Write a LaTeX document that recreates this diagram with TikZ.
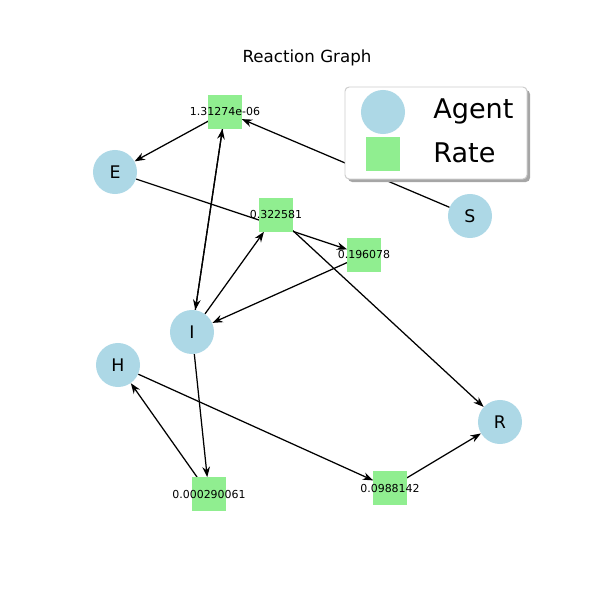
\documentclass[tikz,border=0pt]{standalone}
\usepackage{fontspec}
\setmainfont{DejaVu Sans}
\usetikzlibrary{arrows.meta,backgrounds}
\definecolor{agentc}{RGB}{173,216,230}
\definecolor{ratec}{RGB}{144,238,144}
\begin{document}
\begin{tikzpicture}[x=0.72pt,y=-0.72pt,
 agent/.style={circle,fill=agentc,minimum size=31.7pt,inner sep=0pt,font=\fontsize{12.5}{14}\selectfont},
 rate/.style={rectangle,fill=ratec,minimum size=23.8pt,inner sep=0pt},
 ratelabel/.style={inner sep=0pt,font=\fontsize{7.9}{9}\selectfont},
 edge/.style={-{Stealth[length=7.5pt,width=5.5pt]}, line width=0.9pt},
 legtext/.style={anchor=west,inner sep=0pt,font=\fontsize{19.5}{22}\selectfont}]
\useasboundingbox (0,0) rectangle (600,600);
\node[font=\fontsize{12}{14}\selectfont] (title) at (307,58) {Reaction Graph};
% agents
\node[agent] (E) at (115,172) {E};
\node[agent] (S) at (470,216) {S};
\node[agent] (I) at (192,332) {I};
\node[agent] (H) at (118,365) {H};
\node[agent] (R) at (500,422) {R};
% rates
\node[rate] (r1) at (225,112) {};
\node[rate] (r2) at (276,215) {};
\node[rate] (r3) at (364,255) {};
\node[rate] (r4) at (209,494) {};
\node[rate] (r5) at (390,488) {};
\node[ratelabel] (l1) at (225,112) {1.31274e-06};
\node[ratelabel] (l2) at (276,215) {0.322581};
\node[ratelabel] (l3) at (364,255) {0.196078};
\node[ratelabel] (l4) at (209,494) {0.000290061};
\node[ratelabel] (l5) at (390,488) {0.0988142};
\begin{pgfonlayer}{background}
\draw[edge] (S) -- (r1);
\draw[edge] (r1) -- (E);
\draw[edge] (I) -- (r1);
\draw[edge] (r1) -- (I);
\draw[edge] (E) -- (r3);
\draw[edge] (r3) -- (I);
\draw[edge] (I) -- (r2);
\draw[edge] (r2) -- (R);
\draw[edge] (I) -- (r4);
\draw[edge] (r4) -- (H);
\draw[edge] (H) -- (r5);
\draw[edge] (r5) -- (R);
\end{pgfonlayer}
% legend
\fill[black!35,rounded corners=3pt] (348,90) rectangle (530,182);
\draw[black!20,fill=white,rounded corners=3pt,line width=0.7pt] (345,87) rectangle (527,179);
\node[circle,fill=agentc,minimum size=31.7pt,inner sep=0pt] (legA) at (383,112) {};
\node[rectangle,fill=ratec,minimum size=23.8pt,inner sep=0pt] (legR) at (383,154) {};
\node[legtext] (legAt) at (433,111) {Agent};
\node[legtext] (legRt) at (433,153) {Rate};
\end{tikzpicture}
\end{document}
